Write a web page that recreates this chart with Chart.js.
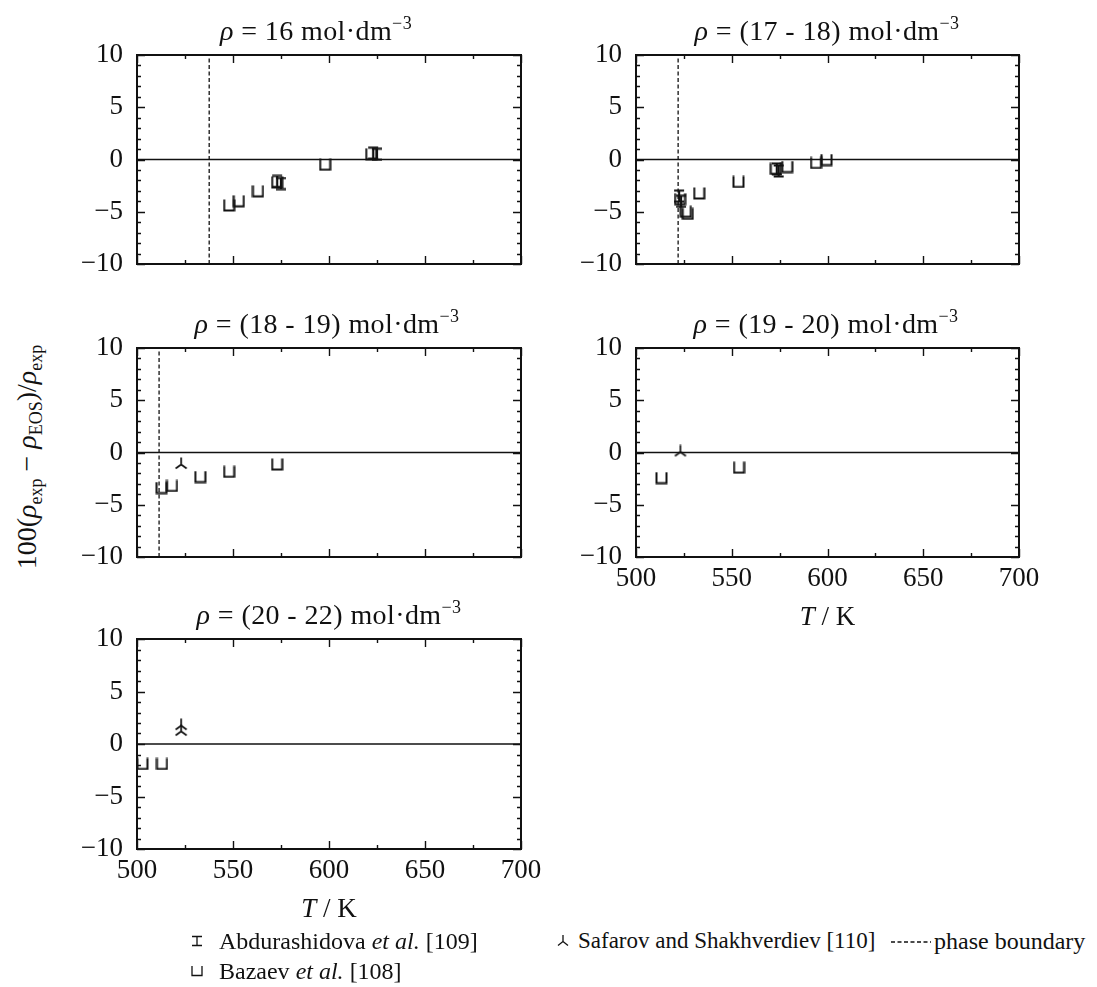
<!DOCTYPE html>
<html>
<head>
<meta charset="utf-8">
<script src="https://cdn.jsdelivr.net/npm/chart.js@4.4.0/dist/chart.umd.min.js"></script>
<style>
html,body{margin:0;padding:0;background:#fff;}
body{width:1097px;height:987px;position:relative;overflow:hidden;font-family:"Liberation Serif",serif;color:#111;}
canvas{position:absolute;}
.t{position:absolute;white-space:nowrap;font-size:28px;line-height:28px;letter-spacing:0.4px;transform:translateX(-50%);}
.t sup{font-size:18px;line-height:0;vertical-align:0;position:relative;top:-11px;}
.ax{position:absolute;white-space:nowrap;font-size:27px;line-height:27px;transform:translateX(-50%);}
.yl{position:absolute;left:27px;top:457px;white-space:nowrap;font-size:28px;line-height:28px;transform:translate(-50%,-50%) rotate(-90deg);}
.yl sub{font-size:18px;line-height:0;vertical-align:0;position:relative;top:6px;}
.lg{position:absolute;white-space:nowrap;font-size:24px;line-height:24px;}
.lm{position:absolute;}
</style>
</head>
<body>
<script>
// ---------------- data ----------------
const xTickValues = [500, 550, 600, 650, 700];
const yTickValues = [-10, -5, 0, 5, 10];
const panelDensities = ['16', '(17 - 18)', '(18 - 19)', '(19 - 20)', '(20 - 22)'];

// rho = 16 mol/dm3
const bazaevT1 = [548, 553, 563, 573, 598, 622];
const bazaevD1 = [-4.4, -4.0, -3.05, -2.2, -0.5, 0.5];
const abduT1 = [573, 575, 623, 625];
const abduD1 = [-2.1, -2.3, 0.6, 0.5];
const safarovT1 = [];
const safarovD1 = [];
const phaseT1 = 537.6;

// rho = 17-18
const bazaevT2 = [523, 526, 527, 533, 553.5, 573, 579, 594, 599.5];
const bazaevD2 = [-3.8, -5.0, -5.2, -3.25, -2.15, -0.9, -0.72, -0.33, -0.05];
const abduT2 = [522.5, 523.5, 573.5, 574.5];
const abduD2 = [-3.5, -4.0, -0.9, -1.1];
const safarovT2 = [];
const safarovD2 = [];
const phaseT2 = 522;

// rho = 18-19
const bazaevT3 = [512.8, 518.2, 533, 548, 573];
const bazaevD3 = [-3.4, -3.2, -2.35, -1.85, -1.15];
const abduT3 = [];
const abduD3 = [];
const safarovT3 = [523];
const safarovD3 = [-1.1];
const phaseT3 = 511.5;

// rho = 19-20
const bazaevT4 = [513.3, 553.8];
const bazaevD4 = [-2.45, -1.45];
const abduT4 = [];
const abduD4 = [];
const safarovT4 = [523.2];
const safarovD4 = [0.1];
const phaseT4 = null;

// rho = 20-22
const bazaevT5 = [502.8, 513];
const bazaevD5 = [-1.9, -1.9];
const abduT5 = [];
const abduD5 = [];
const safarovT5 = [523, 523];
const safarovD5 = [1.8, 1.25];
const phaseT5 = null;

const legendLabels = ['Abdurashidova', 'Safarov and Shakhverdiev [110]', 'phase boundary', 'Bazaev'];

// ---------------- markers ----------------
const INK = '#111';
function mk(w, h, draw) {
  const c = document.createElement('canvas');
  c.width = w; c.height = h;
  const g = c.getContext('2d');
  g.strokeStyle = INK; g.lineCap = 'butt'; g.lineJoin = 'miter';
  draw(g);
  return c;
}
const cupMarker = mk(13, 13, g => {
  g.lineWidth = 2; g.beginPath();
  g.moveTo(1.5, 0.5); g.lineTo(1.5, 11.5); g.lineTo(11.5, 11.5); g.lineTo(11.5, 0.5); g.stroke();
});
const ibeamMarker = mk(12, 14, g => {
  g.lineWidth = 2.2; g.beginPath();
  g.moveTo(1, 1.5); g.lineTo(11, 1.5);
  g.moveTo(6, 1.5); g.lineTo(6, 12.5);
  g.moveTo(1, 12.5); g.lineTo(11, 12.5); g.stroke();
});
const triMarker = mk(14, 14, g => {
  g.lineWidth = 1.7; g.beginPath();
  g.moveTo(7, 0.5); g.lineTo(7, 7.5);
  g.lineTo(1.5, 11.5); g.moveTo(7, 7.5); g.lineTo(12.5, 11.5); g.stroke();
});

// ---------------- layout ----------------
const panels = [
  {pl:137, pt:55,  pw:384, ph:209, tx:316, xl:false, B:[bazaevT1,bazaevD1], A:[abduT1,abduD1], S:[safarovT1,safarovD1], P:phaseT1},
  {pl:636, pt:55,  pw:383, ph:209, tx:827, xl:false, B:[bazaevT2,bazaevD2], A:[abduT2,abduD2], S:[safarovT2,safarovD2], P:phaseT2},
  {pl:137, pt:348, pw:384, ph:209, tx:327, xl:false, B:[bazaevT3,bazaevD3], A:[abduT3,abduD3], S:[safarovT3,safarovD3], P:phaseT3},
  {pl:636, pt:348, pw:383, ph:209, tx:826, xl:true,  B:[bazaevT4,bazaevD4], A:[abduT4,abduD4], S:[safarovT4,safarovD4], P:phaseT4},
  {pl:137, pt:639, pw:384, ph:210, tx:329, xl:true,  B:[bazaevT5,bazaevD5], A:[abduT5,abduD5], S:[safarovT5,safarovD5], P:phaseT5},
];
const YW = 60, PADT = 16, PADR = 30, XH = 45;

const frameTicks = {
  id: 'frameTicks',
  afterDatasetsDraw(chart) {
    const {ctx, chartArea: a, scales: {x, y}} = chart;
    ctx.save();
    ctx.strokeStyle = INK;
    ctx.lineWidth = 1.4;
    ctx.beginPath();
    const xMin = xTickValues[0], xMax = xTickValues[xTickValues.length - 1];
    const xStep = (xTickValues[1] - xTickValues[0]) / 2;
    for (let v = xMin; v <= xMax; v += xStep) {
      const px = Math.round(x.getPixelForValue(v)) + 0.5;
      const len = ((v - xMin) % (2 * xStep) === 0) ? 8 : 4;
      ctx.moveTo(px, a.bottom); ctx.lineTo(px, a.bottom - len);
      ctx.moveTo(px, a.top); ctx.lineTo(px, a.top + len);
    }
    const yMin = yTickValues[0], yMax = yTickValues[yTickValues.length - 1];
    for (let v = yMin; v <= yMax; v += 1) {
      const py = Math.round(y.getPixelForValue(v)) + 0.5;
      const len = (v % 5 === 0) ? 8 : 4;
      ctx.moveTo(a.left, py); ctx.lineTo(a.left + len, py);
      ctx.moveTo(a.right, py); ctx.lineTo(a.right - len, py);
    }
    ctx.stroke();
    ctx.lineWidth = 2;
    ctx.strokeRect(a.left, a.top, a.right - a.left, a.bottom - a.top);
    ctx.restore();
  }
};

const tickFont = {family: '"Liberation Serif", serif', size: 27};

panels.forEach((p, i) => {
  const cv = document.createElement('canvas');
  cv.width = YW + p.pw + PADR;
  cv.height = PADT + p.ph + XH;
  cv.style.left = (p.pl - YW) + 'px';
  cv.style.top = (p.pt - PADT) + 'px';
  document.body.appendChild(cv);

  const toXY = (T, D) => T.map((t, k) => ({x: t, y: D[k]}));
  const datasets = [
    {label: 'Abdurashidova et al. [109]', data: toXY(p.A[0], p.A[1]), pointStyle: ibeamMarker, pointRadius: 6, showLine: false},
    {label: 'Safarov and Shakhverdiev [110]', data: toXY(p.S[0], p.S[1]), pointStyle: triMarker, pointRadius: 6, showLine: false},
    {label: 'Bazaev et al. [108]', data: toXY(p.B[0], p.B[1]), pointStyle: cupMarker, pointRadius: 6, showLine: false},
    {label: 'zero', data: [{x: xTickValues[0], y: 0}, {x: xTickValues[xTickValues.length - 1], y: 0}], showLine: true, borderColor: INK, borderWidth: 1.6, pointRadius: 0},
  ];
  if (p.P !== null) {
    datasets.push({label: 'phase boundary', data: [{x: p.P, y: yTickValues[0]}, {x: p.P, y: yTickValues[yTickValues.length - 1]}], showLine: true, borderColor: INK, borderWidth: 1.3, borderDash: [4, 2.5], pointRadius: 0});
  }

  const chart = new Chart(cv, {
    type: 'scatter',
    data: {datasets},
    options: {
      responsive: false, animation: false, devicePixelRatio: 1, events: [],
      layout: {padding: {top: PADT, right: PADR, left: 0, bottom: 0}, autoPadding: false},
      plugins: {legend: {display: false}, tooltip: {enabled: false}},
      scales: {
        x: {
          type: 'linear', min: xTickValues[0], max: xTickValues[xTickValues.length - 1],
          afterBuildTicks: s => { s.ticks = xTickValues.map(v => ({value: v})); },
          ticks: {display: p.xl, font: tickFont, color: INK, padding: 6, maxRotation: 0, autoSkip: false},
          grid: {display: false, drawTicks: false}, border: {display: false},
          afterFit: s => { s.height = XH; s.paddingLeft = 0; s.paddingRight = 0; s.paddingTop = 0; s.paddingBottom = 0; }
        },
        y: {
          type: 'linear', min: yTickValues[0], max: yTickValues[yTickValues.length - 1],
          afterBuildTicks: s => { s.ticks = yTickValues.map(v => ({value: v})); },
          ticks: {font: tickFont, color: INK, padding: 14, autoSkip: false,
                  callback: v => String(v).replace('-', '\u2212')},
          grid: {display: false, drawTicks: false}, border: {display: false},
          afterFit: s => { s.width = YW; s.paddingTop = 0; s.paddingBottom = 0; s.paddingLeft = 0; s.paddingRight = 0; }
        }
      }
    },
    plugins: [frameTicks]
  });
  // align the chart area to the intended plot box
  const a = chart.chartArea;
  cv.style.left = (p.pl - a.left) + 'px';
  cv.style.top = (p.pt - a.top) + 'px';

  const t = document.createElement('div');
  t.className = 't';
  t.style.left = p.tx + 'px';
  t.style.top = (p.pt - 14 - 24) + 'px';
  t.innerHTML = '<i>\u03c1</i> = ' + panelDensities[i] + ' mol\u00b7dm<sup>\u22123</sup>';
  document.body.appendChild(t);

  if (p.xl) {
    const ax = document.createElement('div');
    ax.className = 'ax';
    ax.style.left = (p.pl + p.pw / 2) + 'px';
    ax.style.top = (p.pt + p.ph + 46) + 'px';
    ax.innerHTML = '<i>T</i> / K';
    document.body.appendChild(ax);
  }
});

// y-axis title
const yl = document.createElement('div');
yl.className = 'yl';
yl.innerHTML = '100(<i>\u03c1</i><sub>exp</sub> \u2212 <i>\u03c1</i><sub>EOS</sub>)/<i>\u03c1</i><sub>exp</sub>';
document.body.appendChild(yl);

// legend
function svgMarker(kind, cx, cy) {
  const s = document.createElementNS('http://www.w3.org/2000/svg', 'svg');
  s.setAttribute('width', 14); s.setAttribute('height', 14);
  s.setAttribute('class', 'lm');
  s.style.left = (cx - 7) + 'px'; s.style.top = (cy - 7) + 'px';
  let d = '';
  if (kind === 'A') d = 'M2 2.5H12M7 2.5V11.5M2 11.5H12';
  if (kind === 'B') d = 'M2 2V11.5H12V2';
  if (kind === 'S') d = 'M7 1V7.5L2 11.5M7 7.5L12 11.5';
  s.innerHTML = '<path d="' + d + '" fill="none" stroke="' + INK + '" stroke-width="1.3"/>';
  document.body.appendChild(s);
}
function lgText(html, x, baseline, size) {
  const d = document.createElement('div');
  d.className = 'lg';
  d.style.left = x + 'px';
  d.style.top = (baseline - 20) + 'px';
  if (size) d.style.fontSize = size + 'px';
  d.innerHTML = html;
  document.body.appendChild(d);
}
svgMarker('A', 197, 941);
lgText(legendLabels[0] + ' <i>et al.</i> [109]', 219, 949);
svgMarker('S', 563, 941);
lgText(legendLabels[1], 578, 949, 23);
const dash = document.createElementNS('http://www.w3.org/2000/svg', 'svg');
dash.setAttribute('width', 42); dash.setAttribute('height', 6);
dash.setAttribute('class', 'lm');
dash.style.left = '890px'; dash.style.top = '939px';
dash.innerHTML = '<line x1="1" y1="3" x2="41" y2="3" stroke="' + INK + '" stroke-width="1.3" stroke-dasharray="4 2.5"/>';
document.body.appendChild(dash);
lgText(legendLabels[2], 934, 949);
svgMarker('B', 197, 971);
lgText(legendLabels[3] + ' <i>et al.</i> [108]', 219, 979);
</script>
</body>
</html>
